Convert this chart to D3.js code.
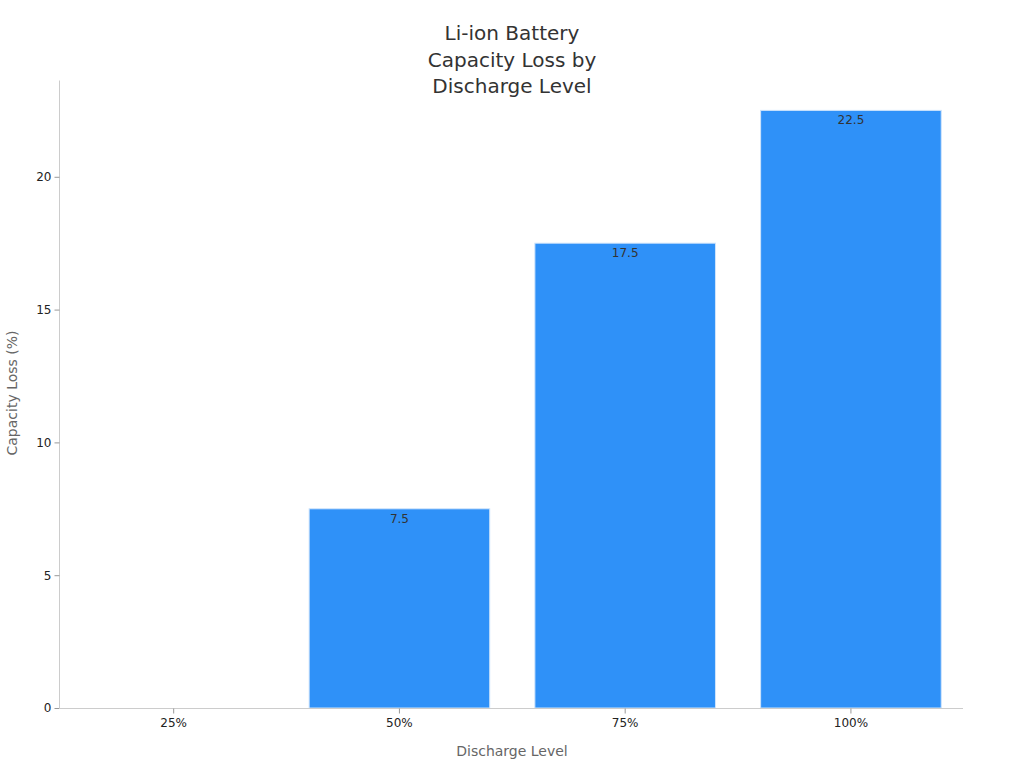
<!DOCTYPE html>
<html><head><meta charset="utf-8">
<script src="https://cdn.jsdelivr.net/npm/d3@7"></script>
<style>body{margin:0;background:#fff;font-family:"DejaVu Sans",sans-serif;}</style>
</head><body><svg id="c" width="1024" height="768"></svg>
<script>
const categories = ["25%", "50%", "75%", "100%"];
const values = [0, 7.5, 17.5, 22.5];
const yTicks = [0, 5, 10, 15, 20];
const titleLines = ["Li-ion Battery", "Capacity Loss by", "Discharge Level"];
const xTitle = "Discharge Level";
const yTitle = "Capacity Loss (%)";

const svg = d3.select("#c");
const m = {l: 60, r: 963, t: 80.5, b: 708};
const x = d3.scaleBand().domain(categories).range([m.l + 0.8, m.r + 0.8]).paddingInner(0.2).paddingOuter(0.1);
const y = d3.scaleLinear().domain([0, 23.625]).range([m.b, m.t]);

svg.append("g").selectAll("text").data(titleLines).join("text")
  .attr("x", 512).attr("y", (d,i) => 40 + i*26.5).attr("text-anchor","middle")
  .attr("font-size", 20).attr("fill", "#333").text(d => d);

const data = categories.map((c,i) => ({c, v: values[i]}));
svg.append("g").selectAll("rect").data(data).join("rect")
  .attr("x", d => x(d.c)).attr("width", x.bandwidth())
  .attr("y", d => y(d.v)).attr("height", d => y(0) - y(d.v))
  .attr("fill", "#2f91f8").attr("stroke", "#cfe4fb").attr("stroke-width", 1);

svg.append("g").selectAll("text").data(data.filter(d => d.v > 0)).join("text")
  .attr("x", d => x(d.c) + x.bandwidth()/2).attr("y", d => y(d.v) + 14)
  .attr("text-anchor","middle").attr("font-size", 12).attr("fill", "#333").text(d => d.v);

const yAxis = svg.append("g").attr("transform", `translate(${m.l - 0.5},0)`)
  .call(d3.axisLeft(y).tickValues(yTicks).tickSize(5).tickPadding(3));
yAxis.select(".domain").attr("stroke", "#ccc").attr("d", `M0,${m.t}V${m.b}`);
yAxis.selectAll(".tick line").attr("stroke", "#999");
yAxis.selectAll(".tick text").attr("font-size", 12).attr("fill", "#222").attr("font-family", "DejaVu Sans");

const xAxis = svg.append("g").attr("transform", `translate(0,${m.b + 0.5})`)
  .call(d3.axisBottom(x).tickSize(5).tickPadding(5));
xAxis.select(".domain").attr("stroke", "#ccc").attr("d", `M${m.l - 0.5},0H${m.r}`);
xAxis.selectAll(".tick line").attr("stroke", "#999");
xAxis.selectAll(".tick text").attr("font-size", 12).attr("fill", "#222").attr("font-family", "DejaVu Sans");

svg.append("text").attr("x", 512).attr("y", 756).attr("text-anchor","middle")
  .attr("font-size", 14).attr("fill", "#666").text(xTitle);
svg.append("text").attr("transform", "translate(17,393) rotate(-90)").attr("text-anchor","middle")
  .attr("font-size", 14).attr("fill", "#666").text(yTitle);
</script></body></html>
